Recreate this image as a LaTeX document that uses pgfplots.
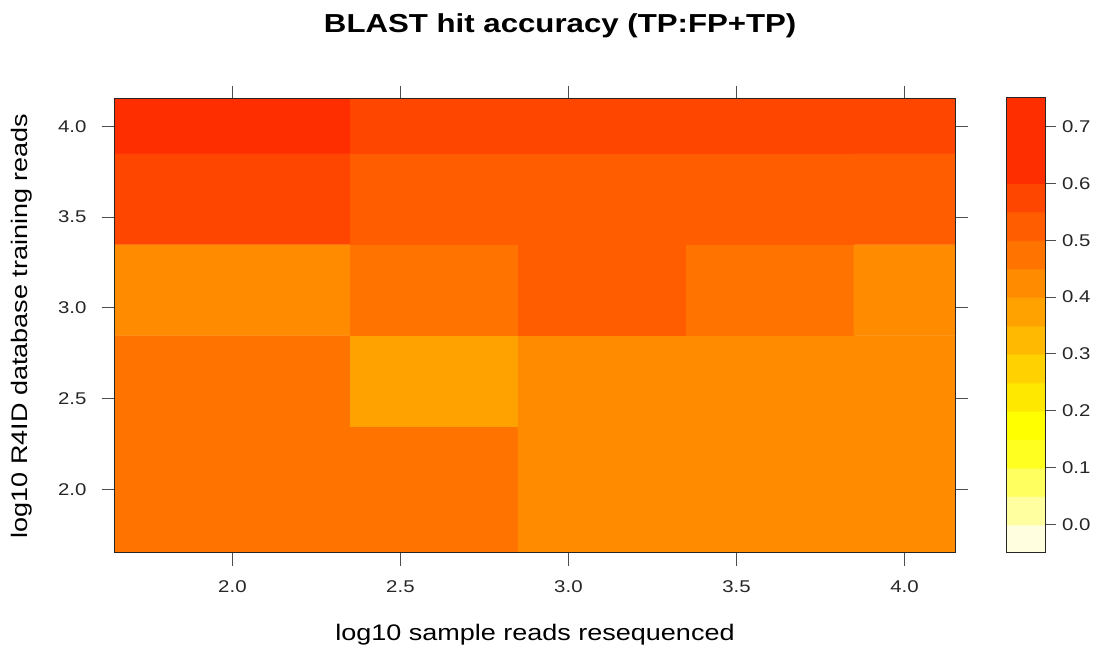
\documentclass[border=0pt]{standalone}
\usepackage{fontspec}
\setmainfont{Liberation Sans}[FakeStretch=1.2]
\usepackage{pgfplots}
\usepackage{pgfplotstable}
\pgfplotsset{compat=1.18}
\definecolor{tickgray}{HTML}{4D4D4D}

% x = log10 sample reads resequenced, y = log10 R4ID database training reads
\pgfplotstableread{
x       y       acc
2.00000 2.00000 0.47
2.69897 2.00000 0.46
3.00000 2.00000 0.43
3.69897 2.00000 0.43
4.00000 2.00000 0.43
2.00000 2.69897 0.47
2.69897 2.69897 0.38
3.00000 2.69897 0.43
3.69897 2.69897 0.43
4.00000 2.69897 0.43
2.00000 3.00000 0.43
2.69897 3.00000 0.48
3.00000 3.00000 0.53
3.69897 3.00000 0.48
4.00000 3.00000 0.43
2.00000 3.69897 0.58
2.69897 3.69897 0.53
3.00000 3.69897 0.53
3.69897 3.69897 0.53
4.00000 3.69897 0.53
2.00000 4.00000 0.66
2.69897 4.00000 0.58
3.00000 4.00000 0.58
3.69897 4.00000 0.58
4.00000 4.00000 0.58
}\datatable

\begin{document}
\begin{tikzpicture}
\begin{axis}[
  name=main,
  scale only axis, width=840pt, height=454pt,
  xmin=1.650515, xmax=4.150515, ymin=1.650515, ymax=4.150515,
  xtick={2,2.5,3,3.5,4}, ytick={2,2.5,3,3.5,4},
  tick pos=both, tick align=outside, major tick length=13pt,
  xticklabel pos=left, yticklabel pos=left,
  every tick/.style={tickgray, line width=0.9pt},
  axis line style={black!85, line width=1pt},
  axis on top,
  /pgf/number format/fixed, /pgf/number format/fixed zerofill,
  /pgf/number format/precision=1, /pgf/number format/assume math mode=true,
  ticklabel style={font=\fontsize{17}{20}\selectfont, text=black!85},
  xticklabel style={yshift=-11pt},
  yticklabel style={xshift=-12pt},
  title={BLAST hit accuracy (TP:FP+TP)},
  title style={font=\bfseries\fontsize{26}{30}\selectfont, at={(axis description cs:0.53,1.1322)}, anchor=base},
  xlabel={log10 sample reads resequenced},
  xlabel style={font=\fontsize{22.5}{26}\selectfont, at={(axis description cs:0.5,-0.1938)}, anchor=base},
  ylabel={log10 R4ID database training reads},
  ylabel style={font=\fontsize{22.5}{26}\selectfont, at={(axis description cs:-0.1036,0.5)}, anchor=base},
  colormap={heat}{
    rgb255(0cm)=(255,255,223) rgb255(0.98cm)=(255,255,223)
    rgb255(1cm)=(255,255,159) rgb255(1.98cm)=(255,255,159)
    rgb255(2cm)=(255,255,96) rgb255(2.98cm)=(255,255,96)
    rgb255(3cm)=(255,255,32) rgb255(3.98cm)=(255,255,32)
    rgb255(4cm)=(255,255,0) rgb255(4.98cm)=(255,255,0)
    rgb255(5cm)=(255,232,0) rgb255(5.98cm)=(255,232,0)
    rgb255(6cm)=(255,209,0) rgb255(6.98cm)=(255,209,0)
    rgb255(7cm)=(255,185,0) rgb255(7.98cm)=(255,185,0)
    rgb255(8cm)=(255,162,0) rgb255(8.98cm)=(255,162,0)
    rgb255(9cm)=(255,139,0) rgb255(9.98cm)=(255,139,0)
    rgb255(10cm)=(255,116,0) rgb255(10.98cm)=(255,116,0)
    rgb255(11cm)=(255,93,0) rgb255(11.98cm)=(255,93,0)
    rgb255(12cm)=(255,70,0) rgb255(12.98cm)=(255,70,0)
    rgb255(13cm)=(255,46,0) rgb255(16cm)=(255,46,0)
  },
  point meta min=-0.05, point meta max=0.75,
  colorbar right,
  colorbar/width=39pt,
  colorbar style={
    at={(parent axis.north east)}, anchor=north west, xshift=43pt, yshift=1pt,
    scale only axis, width=39pt, height=455pt,
    ytick={0,0.1,0.2,0.3,0.4,0.5,0.6,0.7},
    ytick pos=right, yticklabel pos=right,
    tick align=outside, major tick length=10pt,
    every tick/.style={tickgray, line width=0.9pt},
    axis line style={black!85, line width=1pt},
    /pgf/number format/fixed, /pgf/number format/fixed zerofill,
    /pgf/number format/precision=1, /pgf/number format/assume math mode=true,
    yticklabel style={font=\fontsize{17}{20}\selectfont, text=black!85, xshift=3pt},
  },
]
\addplot[matrix plot*, mesh/cols=5, point meta=explicit] table[x=x, y=y, meta=acc] {\datatable};
\end{axis}
\pgfresetboundingbox
\path ([xshift=-115pt,yshift=-99pt]main.south west) rectangle ([xshift=148pt,yshift=99pt]main.north east);
\end{tikzpicture}
\end{document}
